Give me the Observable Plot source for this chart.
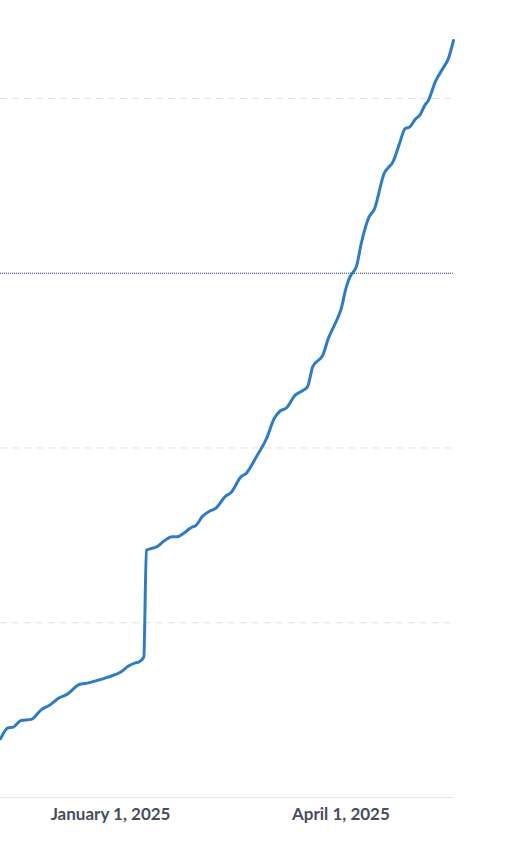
<!DOCTYPE html>
<html><head><meta charset="utf-8">
<script src="https://cdn.jsdelivr.net/npm/d3@7"></script>
<script src="https://cdn.jsdelivr.net/npm/@observablehq/plot@0.6"></script>
<style>body{margin:0;background:#fff;font-family:Lato,sans-serif}</style>
</head><body><div id="chart"></div>
<script>
const dates = [
  "2024-11-19","2024-11-22","2024-11-24","2024-11-27","2024-12-01","2024-12-05","2024-12-08","2024-12-12",
  "2024-12-15","2024-12-20","2024-12-22","2024-12-27","2024-12-31","2025-01-05","2025-01-08","2025-01-11",
  "2025-01-12","2025-01-14","2025-01-15","2025-01-17","2025-01-19","2025-01-22","2025-01-25","2025-01-27",
  "2025-01-30","2025-02-02","2025-02-03","2025-02-06","2025-02-09","2025-02-11","2025-02-15","2025-02-17",
  "2025-02-21","2025-02-23","2025-02-27","2025-03-03","2025-03-06","2025-03-08","2025-03-11","2025-03-14",
  "2025-03-17","2025-03-19","2025-03-21","2025-03-25","2025-03-27","2025-03-31","2025-04-01","2025-04-03",
  "2025-04-05","2025-04-06","2025-04-07","2025-04-09","2025-04-12","2025-04-14","2025-04-18","2025-04-20",
  "2025-04-21","2025-04-24","2025-04-26","2025-04-28","2025-04-30","2025-05-02","2025-05-04","2025-05-05",
  "2025-05-08","2025-05-11","2025-05-13","2025-05-15"
];
const values = [
  0.336,0.399,0.403,0.441,0.447,0.503,0.527,0.571,
  0.590,0.648,0.652,0.670,0.689,0.718,0.752,0.772,
  0.775,0.804,1.415,1.425,1.434,1.469,1.492,1.492,
  1.517,1.549,1.553,1.610,1.641,1.654,1.725,1.744,
  1.836,1.855,1.950,2.056,2.170,2.208,2.233,2.300,
  2.328,2.351,2.466,2.533,2.623,2.752,2.791,2.915,
  2.991,3.010,3.036,3.173,3.322,3.364,3.574,3.612,
  3.628,3.746,3.826,3.838,3.880,3.908,3.966,3.984,
  4.099,4.176,4.228,4.332
];
const xTicks = ["2025-01-01","2025-04-01"];
const gridValues = [1,2,3,4];
const targetValue = 3;

const data = dates.map((d,i)=>({date:new Date(d), value:values[i]}));

const chart = Plot.plot({
  width:526, height:854,
  marginLeft:0, marginRight:73, marginTop:10.6, marginBottom:57,
  style:{fontFamily:"Lato, sans-serif", background:"#fff", overflow:"visible"},
  x:{type:"utc", domain:[data[0].date, data[data.length-1].date]},
  y:{domain:[0,4.5], axis:null},
  marks:[
    Plot.ruleY(gridValues,{stroke:"#e2e2e2", strokeDasharray:"7,5", strokeWidth:1}),
    Plot.ruleY([0],{stroke:"#e6e6e6", strokeWidth:1}),
    Plot.ruleY([targetValue],{stroke:"#3d3d8c", strokeDasharray:"1,1", strokeWidth:1}),
    Plot.lineY(data,{x:"date", y:"value", stroke:"#2d7cc4", strokeWidth:3, curve:"monotone-x"}),
    Plot.axisX(xTicks.map(d=>new Date(d)), {
      tickSize:0, tickPadding:10, tickFormat:d3.utcFormat("%B %-d, %Y"),
      fontSize:17, fontWeight:"bold", fill:"#474d5b", label:null
    })
  ]
});
document.getElementById("chart").appendChild(chart);
</script>
</body></html>
